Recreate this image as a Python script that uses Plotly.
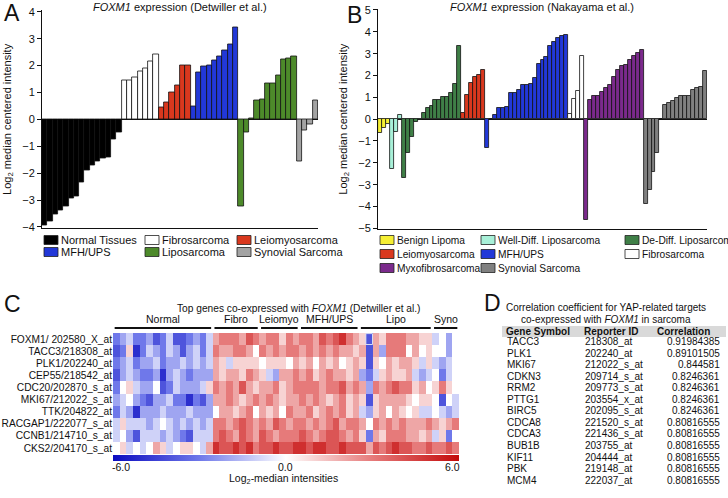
import plotly.graph_objects as go

W, H = 728, 498

# ---- Panel A: FOXM1 expression (Detwiller et al.) ----
a_groups = ["Normal Tissues", "Fibrosarcoma", "Leiomyosarcoma", "MFH/UPS", "Liposarcoma", "Synovial Sarcoma"]
a_colors = ["#000000", "#ffffff", "#d9381e", "#2238d8", "#4d8a2a", "#a3a3a3"]
a_normal = [-3.95, -3.8, -3.55, -3.4, -3.25, -2.95, -2.85, -2.35, -1.9, -1.7, -1.55, -1.45, -1.4, -0.75, -0.5]
a_fibro = [1.45, 1.45, 1.55, 1.8, 1.9, 2.15, 2.4]
a_leio = [0.45, 0.62, 1.0, 1.27, 2.0, 2.0]
a_mfh = [0.5, 1.75, 1.97, 2.0, 2.2, 2.35, 2.55, 2.78, 3.4]
a_lipo = [-3.25, -0.48, 0.02, 0.7, 0.75, 1.32, 1.32, 1.65, 2.22, 2.25, 2.35]
a_syno = [-1.55, -0.4, -0.2, 0.7]
a_values = [a_normal, a_fibro, a_leio, a_mfh, a_lipo, a_syno]

# ---- Panel B: FOXM1 expression (Nakayama et al.) ----
b_groups = ["Benign Lipoma", "Well-Diff. Liposarcoma", "De-Diff. Liposarcoma", "Leiomyosarcoma",
            "MFH/UPS", "Fibrosarcoma", "Myxofibrosarcoma", "Synovial Sarcoma"]
b_colors = ["#f5ef34", "#a8f0d8", "#3f7f47", "#d9381e", "#2238d8", "#ffffff", "#7b2a8c", "#808080"]
b_benign = [-0.65, -0.4, -0.2]
b_welldiff = [-2.3, -0.6, 0.18]
b_dediff = [-2.7, -1.55, -0.8, -0.12, -0.03, 0.3, 0.5, 0.6, 0.9, 0.9, 1.0, 1.0, 1.2, 1.6, 3.35]
b_leio = [0.28, 1.1, 1.65, 1.95, 2.05, 2.25]
b_mfh = [-1.3, 0.02, 0.18, 0.52, 0.53, 0.55, 1.2, 1.2, 1.35, 1.55, 1.55, 1.6, 1.88, 2.55, 2.7, 2.85,
         3.35, 3.55, 3.7, 3.8, 3.85]
b_fibro = [0.22, 0.92, 1.3, 2.9]
b_myxo = [-4.6, 0.9, 1.05, 1.05, 1.25, 1.45, 1.55, 1.92, 2.25, 2.45, 2.5, 2.72, 2.9, 3.05, 3.15]
b_syno = [-3.9, -3.25, -2.4, -1.55, 0.03, 0.65, 0.75, 0.82, 0.97, 1.05, 1.08, 1.08, 1.35, 1.45, 1.5, 2.2]
b_values = [b_benign, b_welldiff, b_dediff, b_leio, b_mfh, b_fibro, b_myxo, b_syno]

# ---- Panel C: heatmap ----
c_groups = ["Normal", "Fibro", "Leiomyo", "MFH/UPS", "Lipo", "Syno"]
c_sizes = [15, 7, 6, 9, 11, 4]
c_genes = ["FOXM1/ 202580_X_at", "TACC3/218308_at", "PLK1/202240_at", "CEP55/218542_at",
           "CDC20/202870_s_at", "MKI67/212022_s_at", "TTK/204822_at", "RACGAP1/222077_s_at",
           "CCNB1/214710_s_at", "CKS2/204170_s_at"]
c_matrix = [
    [-3, -2, -1, -3, -3, -2, -4, -3, -1, -4, -4, -3, -2, -3, -1, 2, 3, 3, 3, 2, 4, 3, 2, 3, 3, 1, 3, 2,
     3, 3, 2, 4, 3, 4, 5, 3, 2, 1, -4, 2, 1, 3, 3, 3, 2, 2, 1, 1, -1, 0, -2, 0],
    [-4, -3, 1, -5, -3, -1, -2, -3, -1, -2, -4, -2, -1, -3, -1, 3, 2, 2, 3, 3, 2, 0, 3, 2, 3, 2, 3, 3,
     2, 3, 2, 3, 2, 3, 2, 2, 1, 2, -4, 2, -2, 3, 3, 3, 0, 2, 0, 1, 0, 0, -2, 0],
    [-3, -2, -1, -3, -2, -2, -1, -3, -2, -2, -1, -2, -1, -2, -1, 2, 1, -1, 1, 1, 1, 1, 0, 1, 1, 1, 0, 2,
     1, 2, 0, 2, 1, 2, 0, 1, 2, 1, -4, 1, 0, 2, 1, 2, 2, 1, -1, 1, -1, -2, -1, 0],
    [-4, -2, -1, -2, -3, -3, -2, -5, -2, -1, -2, -3, -2, -2, -2, 2, 1, 2, 2, 1, 3, 2, 1, -1, -2, 2, 2, 3,
     2, 3, 1, 2, 3, 2, 2, 1, 2, -2, -3, -1, 1, 2, 1, 1, 2, -1, -2, -1, 0, -3, -1, 0],
    [-3, 0, 1, -1, -2, -2, 0, -4, -3, -1, -2, -2, -2, -1, 1, 3, 2, 3, 2, 4, 2, 1, 2, 2, 3, 1, 2, 3,
     3, 3, 3, 2, 3, 3, 4, 2, 3, 2, -2, 3, 2, 3, 4, 3, 3, 1, 2, 0, 1, 3, 1, 0],
    [-2, -1, 0, -2, -3, -4, -2, -2, -1, -3, -3, -5, -3, -4, -2, 2, 2, 3, 2, 1, 2, 3, 2, 3, 2, 1, 2, 2,
     3, 2, 3, 2, 1, 2, 3, 1, 2, 1, -4, 1, 2, 2, 2, 2, 1, 0, 1, 1, 0, -4, 0, -1],
    [-3, -1, -2, -5, -2, -2, -2, -1, -2, -2, -2, -1, -2, -2, -2, 0, 2, 2, 1, 2, 3, 0, 2, 1, 2, 0, 3, 2,
     2, 3, 1, 2, 3, 2, 3, 1, 2, -1, -2, 1, 2, 0, 2, 1, 0, 1, -1, -1, 0, -1, -2, -1],
    [-1, 1, -1, -1, -1, -2, -1, 0, -1, -2, -1, -2, -1, -2, -1, 3, 3, 2, 3, 4, 3, 2, 3, 2, 4, 3, 2, 3,
     3, 2, 3, 2, 3, 4, 2, 3, 3, 2, 0, 3, 2, 3, 2, 3, 2, 2, 2, 3, 2, 1, 2, 3],
    [-1, 0, -2, -4, -1, -1, -1, -2, -1, -2, -3, -4, -1, -1, -1, 3, 4, 3, 2, 4, 3, 2, 4, 3, 2, 3, 3, 3,
     4, 3, 2, 3, 4, 4, 3, 2, 3, 1, -3, 2, 1, 3, 3, 3, 2, 2, 1, 2, -1, 1, -3, 0],
    [0, 1, -1, 0, -1, 0, 2, 1, -1, 0, 1, 1, 0, -1, 2, 5, 4, 4, 5, 4, 5, 3, 4, 4, 5, 4, 4, 5,
     5, 4, 5, 5, 4, 4, 5, 4, 4, 4, 2, 4, 3, 4, 5, 4, 4, 3, 3, 4, 3, 3, 4, 3],
]
c_ticktext = ["-6.0", "0.0", "6.0"]
c_arrow_rows = ["TACC3/218308_at", "PLK1/202240_at", "MKI67/212022_s_at"]

# ---- Panel D: table ----
d_genes = ["TACC3", "PLK1", "MKI67", "CDKN3", "RRM2", "PTTG1", "BIRC5", "CDCA8", "CDCA3", "BUB1B",
           "KIF11", "PBK", "MCM4"]
d_reporters = ["218308_at", "202240_at", "212022_s_at", "209714_s_at", "209773_s_at", "203554_x_at",
               "202095_s_at", "221520_s_at", "221436_s_at", "203755_at", "204444_at", "219148_at",
               "222037_at"]
d_corr = ["0.91984385", "0.89101505", "0.844581", "0.8246361", "0.8246361", "0.8246361", "0.8246361",
          "0.80816555", "0.80816555", "0.80816555", "0.80816555", "0.80816555", "0.80816555"]

FONT = "Liberation Sans, Arial, sans-serif"


def px(x):
    return x / W


def py(y):
    return 1 - y / H


fig = go.Figure()
shapes = []
annots = []


def note(x, y, text, size=11, xanchor="center", xref="paper", yref="paper"):
    annots.append(dict(x=x, y=y, xref=xref, yref=yref, text=text, showarrow=False,
                       xanchor=xanchor, yanchor="middle", font=dict(size=size, color="#111")))


def add_bars(values, colors, names, xa, ya):
    start = 0
    for vals, col, name in zip(values, colors, names):
        xs = list(range(start, start + len(vals)))
        fig.add_trace(go.Bar(x=xs, y=vals, marker=dict(color=col, line=dict(color="#111111", width=0.8)),
                             name=name, xaxis=xa, yaxis=ya, width=1, showlegend=False))
        start += len(vals)
    return start


na = add_bars(a_values, a_colors, a_groups, "x", "y")
nb = add_bars(b_values, b_colors, b_groups, "x2", "y2")

# heatmap
ncol = sum(c_sizes)
fig.add_trace(go.Heatmap(
    z=c_matrix, x=list(range(ncol)), y=c_genes, xaxis="x3", yaxis="y3", zmin=-6, zmax=6,
    colorscale=[[0, "#0b0bc0"], [0.25, "#6f78ea"], [0.5, "#ffffff"], [0.75, "#e67a7a"], [1, "#c40a0a"]],
    colorbar=dict(orientation="h", x=px(286), xanchor="center", y=py(455), yanchor="top",
                  len=346, lenmode="pixels", thickness=6, outlinewidth=0, xpad=0, ypad=0,
                  showticklabels=False, ticks=""),
))

axis_common = dict(showgrid=False, color="#111")
fig.update_layout(
    width=W, height=H, margin=dict(l=0, r=0, t=0, b=0, autoexpand=False),
    paper_bgcolor="white", plot_bgcolor="white",
    barmode="overlay", bargap=0, font=dict(family=FONT, size=11, color="#111"),
    xaxis=dict(domain=[px(42), px(318)], range=[-0.5, na - 0.5], showticklabels=False, ticks="",
               showline=True, linecolor="#111", linewidth=1, zeroline=False, **axis_common),
    yaxis=dict(domain=[py(228.3), py(10.4)], range=[-4.05, 4.05], dtick=1, ticks="outside", ticklen=4,
               showline=True, linecolor="#111", linewidth=1, zeroline=True, zerolinecolor="#111",
               zerolinewidth=1, tickfont=dict(size=11),
               title=dict(text="Log<sub>2</sub> median centered intensity", font=dict(size=11), standoff=8),
               **axis_common),
    xaxis2=dict(domain=[px(378), px(707)], range=[-0.5, nb - 0.5], showticklabels=False, ticks="",
                showline=True, linecolor="#111", linewidth=1, zeroline=False, anchor="y2", **axis_common),
    yaxis2=dict(domain=[py(229.4), py(8.9)], range=[-5.05, 5.05], dtick=1, ticks="outside", ticklen=4,
                showline=True, linecolor="#111", linewidth=1, zeroline=True, zerolinecolor="#111",
                zerolinewidth=1, tickfont=dict(size=11), anchor="x2",
                title=dict(text="Log<sub>2</sub> median centered intensity", font=dict(size=11), standoff=8),
                **axis_common),
    xaxis3=dict(domain=[px(113), px(459)], range=[-0.5, ncol - 0.5], showticklabels=False, ticks="",
                showline=False, zeroline=False, anchor="y3", **axis_common),
    yaxis3=dict(domain=[py(454), py(333)], autorange="reversed", ticks="", showline=False, zeroline=False,
                anchor="x3", tickmode="array", tickvals=c_genes, tickfont=dict(size=10.2), **axis_common),
)

# titles
note(px(180), py(7), "<i>FOXM1</i> expression (Detwiller et al.)")
note(px(542), py(7), "<i>FOXM1</i> expression (Nakayama et al.)")
note(px(298), py(308), "Top genes co-expressed with <i>FOXM1</i> (Detwiller et al.)", size=10.2)
note(px(283), py(479), "Log<sub>2</sub>-median intensities", size=10.5)
note(px(606), py(307), "Correlation coefficient for YAP-related targets", size=10)
note(px(606), py(319.5), "co-expressed with <i>FOXM1</i> in sarcoma", size=10)

# colorbar tick labels (ends and middle of the bar)
for t, x in zip(c_ticktext, [121, 285, 452]):
    note(px(x), py(467), t, size=10.5)

# panel letters
for letter, x, y in [("A", 12, 13), ("B", 354, 15), ("C", 12, 304), ("D", 492, 303)]:
    note(px(x), py(y), letter, size=23)


def legend(names, colors, cols_x, rows_y, ncols, size):
    for i, (name, col) in enumerate(zip(names, colors)):
        x = cols_x[i % ncols]
        y = rows_y[i // ncols]
        shapes.append(dict(type="rect", xref="paper", yref="paper", x0=px(x), x1=px(x + 14),
                           y0=py(y + 4.5), y1=py(y - 4.5), fillcolor=col, line=dict(color="#222", width=0.8)))
        note(px(x + 15), py(y), name, xanchor="left", size=size)


legend(a_groups, a_colors, [44, 145, 237], [240, 252], 3, 11)
legend(b_groups, b_colors, [380, 481, 625], [240, 254, 268], 3, 10.2)

# heatmap group labels and underlines
start = 0
for name, n in zip(c_groups, c_sizes):
    shapes.append(dict(type="line", xref="x3", yref="paper", x0=start - 0.5 + 0.25, x1=start + n - 0.5 - 0.25,
                       y0=py(328), y1=py(328), line=dict(color="#111", width=2)))
    note(start + (n - 1) / 2, py(319), name, xref="x3", size=10.5)
    start += n

# outlined cell in Lipo
lipo0 = sum(c_sizes[:4])
shapes.append(dict(type="rect", xref="x3", yref="y3", x0=lipo0 + 0.5, x1=lipo0 + 1.5, y0=-0.45, y1=0.45,
                   line=dict(color="#d8dcf0", width=1)))

# arrows
for g in c_arrow_rows:
    annots.append(dict(x=ncol + 0.1, y=g, xref="x3", yref="y3", ax=18, ay=0, text="", showarrow=True,
                       arrowhead=2, arrowsize=1.6, arrowwidth=2.2, arrowcolor="#000"))

# table
shapes.append(dict(type="rect", xref="paper", yref="paper", x0=px(502), x1=px(726), y0=py(337), y1=py(326),
                   fillcolor="#d9d9d9", line=dict(width=0), layer="below"))
for text, x in [("<b>Gene Symbol</b>", 504), ("<b>Reporter ID</b>", 582), ("<b>Correlation</b>", 655)]:
    note(px(x), py(331), text, xanchor="left", size=10)
for i, (g, r, c) in enumerate(zip(d_genes, d_reporters, d_corr)):
    yy = py(341.5 + 11.55 * i)
    note(px(505), yy, g, xanchor="left", size=10)
    note(px(583), yy, r, xanchor="left", size=10)
    note(px(722), yy, c, xanchor="right", size=10)

fig.update_layout(shapes=shapes, annotations=annots)
fig.write_html("out.html", config={"displayModeBar": False},
               post_script="document.body.style.margin='0px';")
